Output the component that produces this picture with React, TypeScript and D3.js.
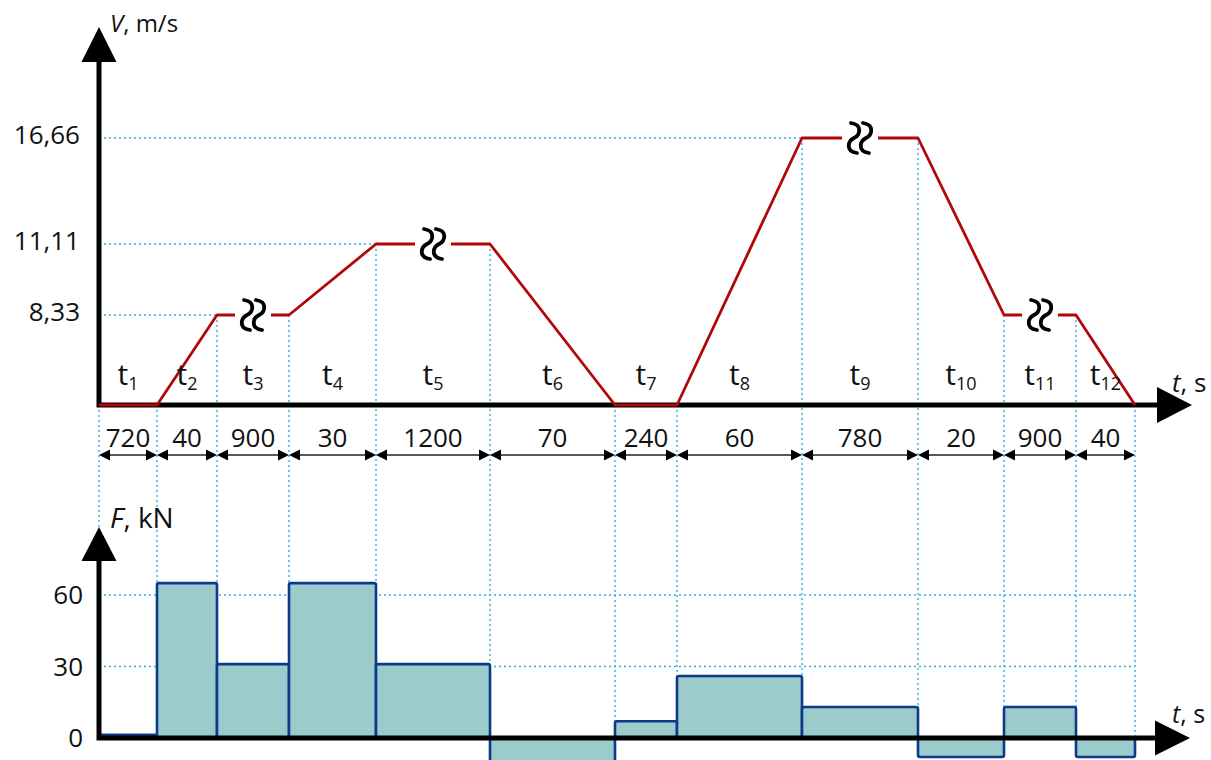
import React from "react";
import * as d3 from "d3";

// ---- data ----
const periods = ["1", "2", "3", "4", "5", "6", "7", "8", "9", "10", "11", "12"];
const durations = [720, 40, 900, 30, 1200, 70, 240, 60, 780, 20, 900, 40];
// speed at each period boundary (m/s)
const speeds = [0, 0, 8.33, 8.33, 11.11, 11.11, 0, 0, 16.66, 16.66, 8.33, 8.33, 0];
// periods drawn with a break symbol (cruise)
const brokenPeriods = [2, 4, 8, 10];
const speedTicks = [8.33, 11.11, 16.66];
const speedTickLabels = ["8,33", "11,11", "16,66"];
// traction force per period (kN)
const forces = [1.3, 65, 31, 65, 31, -11, 7, 26, 13, -8, 13, -8];
const forceTicks = [0, 30, 60];

// ---- layout (schematic, non-proportional time axis) ----
const segWidths = [58, 60, 72, 87, 114, 125, 62, 125, 116, 86, 72, 59];
const X0 = 99;
const bounds = segWidths.reduce((acc, w) => [...acc, acc[acc.length - 1] + w], [X0]);

const FONT = "'Open Sans', 'Noto Sans', sans-serif";
const RED = "#b00808";
const BLUE_DOT = "#3aa8e2";
const BAR_FILL = "#9ccbcc";
const BAR_STROKE = "#0c3a8a";

export default function App() {
  const x = d3.scaleLinear().domain(d3.range(bounds.length)).range(bounds);
  const yV = d3.scaleLinear().domain([0, 8.33, 11.11, 16.66]).range([405, 315, 244, 138]);
  const yF = d3.scaleLinear().domain([0, 60]).range([738, 595]);

  const axisTop = yV(0);
  const axisBot = yF(0);
  const xEnd = x(bounds.length - 1);

  // red speed curve split into pieces with gaps at broken periods
  const gapHalf = 18;
  const pieces: [number, number][][] = [];
  let cur: [number, number][] = [[x(0), yV(speeds[0])]];
  for (let i = 0; i < periods.length; i++) {
    if (brokenPeriods.includes(i)) {
      const mid = (x(i) + x(i + 1)) / 2;
      cur.push([mid - gapHalf, yV(speeds[i])]);
      pieces.push(cur);
      cur = [[mid + gapHalf, yV(speeds[i + 1])]];
    }
    cur.push([x(i + 1), yV(speeds[i + 1])]);
  }
  pieces.push(cur);
  const line = d3.line();

  const squiggle = (cx: number, cy: number) =>
    `M${cx - 3},${cy - 15} C${cx + 9},${cy - 13} ${cx + 6},${cy - 3} ${cx},${cy} ` +
    `C${cx - 6},${cy + 3} ${cx - 9},${cy + 13} ${cx + 3},${cy + 15}`;

  const dims = 455;

  return (
    <svg
      width={1211}
      height={760}
      style={{ position: "absolute", left: 0, top: 0, background: "#fff" }}
      fontFamily={FONT}
    >
      {/* ---- dotted guide lines ---- */}
      <g stroke={BLUE_DOT} strokeWidth={1.4} strokeDasharray="2,3" fill="none">
        {speedTicks.map((v) => {
          const idx = speeds.findIndex((s) => s === v);
          return <line key={"h" + v} x1={X0} x2={x(idx)} y1={yV(v)} y2={yV(v)} />;
        })}
        {bounds.map((b, i) => (
          <line key={"v" + i} x1={x(i)} x2={x(i)} y1={yV(speeds[i])} y2={axisBot} />
        ))}
        {forceTicks.filter((f) => f !== 0).map((f) => (
          <line key={"fh" + f} x1={X0} x2={xEnd} y1={yF(f)} y2={yF(f)} />
        ))}
      </g>

      {/* ---- force bars ---- */}
      <g fill={BAR_FILL} stroke={BAR_STROKE} strokeWidth={2.6} strokeLinejoin="round">
        {forces.map((f, i) => (
          <rect
            key={"b" + i}
            x={x(i)}
            width={x(i + 1) - x(i)}
            y={Math.min(yF(f), yF(0))}
            height={Math.abs(yF(f) - yF(0))}
            rx={2}
          />
        ))}
      </g>

      {/* ---- top axes ---- */}
      <path d={`M${X0},62 L${X0},${axisTop} L1158,${axisTop}`} stroke="#000" strokeWidth={5} fill="none" strokeLinejoin="miter" />
      <polygon points={`${X0},27 ${X0 - 17.5},62 ${X0 + 17.5},62`} fill="#000" />
      <polygon points={`1192,${axisTop} 1157,${axisTop - 18} 1157,${axisTop + 18}`} fill="#000" />

      {/* ---- speed curve ---- */}
      <g stroke={RED} strokeWidth={2.8} fill="none" strokeLinejoin="round">
        {pieces.map((p, i) => (
          <path key={"r" + i} d={line(p) || ""} />
        ))}
      </g>
      <g stroke="#000" strokeWidth={3.8} fill="none" strokeLinecap="round">
        {brokenPeriods.map((i) => {
          const mid = (x(i) + x(i + 1)) / 2;
          const cy = yV(speeds[i]);
          return (
            <g key={"s" + i}>
              <path d={squiggle(mid - 6, cy)} />
              <path d={squiggle(mid + 6, cy)} />
            </g>
          );
        })}
      </g>

      {/* ---- bottom axes ---- */}
      <path d={`M${X0},561 L${X0},${axisBot} L1156,${axisBot}`} stroke="#000" strokeWidth={5} fill="none" strokeLinejoin="miter" />
      <polygon points={`${X0},527 ${X0 - 17.5},561 ${X0 + 17.5},561`} fill="#000" />
      <polygon points={`1190,${axisBot} 1155,${axisBot - 17.5} 1155,${axisBot + 17.5}`} fill="#000" />

      {/* ---- dimension arrows ---- */}
      <g>
        {durations.map((d, i) => {
          const a = x(i);
          const b = x(i + 1);
          return (
            <g key={"d" + i}>
              <line x1={a + 2} x2={b - 2} y1={dims} y2={dims} stroke="#222" strokeWidth={1.3} />
              <polygon points={`${a},${dims} ${a + 11},${dims - 5.5} ${a + 11},${dims + 5.5}`} fill="#000" />
              <polygon points={`${b},${dims} ${b - 11},${dims - 5.5} ${b - 11},${dims + 5.5}`} fill="#000" />
              <text x={(a + b) / 2} y={447} fontSize={26} textAnchor="middle" fill="#111">
                {d}
              </text>
            </g>
          );
        })}
      </g>

      {/* ---- period labels ---- */}
      {periods.map((p, i) => (
        <text key={"t" + i} x={(x(i) + x(i + 1)) / 2} y={385} fontSize={30} textAnchor="middle" fill="#111">
          <tspan>t</tspan>
          <tspan fontSize={18} dy={5}>{p}</tspan>
        </text>
      ))}

      {/* ---- tick labels ---- */}
      {speedTicks.map((v, i) => (
        <text key={"vt" + v} x={80} y={yV(v) + 6} fontSize={26} textAnchor="end" fill="#111">
          {speedTickLabels[i]}
        </text>
      ))}
      {forceTicks.map((f) => (
        <text key={"ft" + f} x={83} y={yF(f) + 9} fontSize={26} textAnchor="end" fill="#111">
          {f}
        </text>
      ))}

      {/* ---- axis titles ---- */}
      <text x={110} y={32} fontSize={24} fill="#111">
        <tspan fontStyle="italic">V</tspan>, m/s
      </text>
      <text x={1172} y={392} fontSize={26} fill="#111">
        <tspan fontStyle="italic">t</tspan>, s
      </text>
      <text x={110} y={528} fontSize={28} fill="#111">
        <tspan fontStyle="italic">F</tspan>, kN
      </text>
      <text x={1172} y={723} fontSize={25} fill="#111">
        <tspan fontStyle="italic">t</tspan>, s
      </text>
    </svg>
  );
}
